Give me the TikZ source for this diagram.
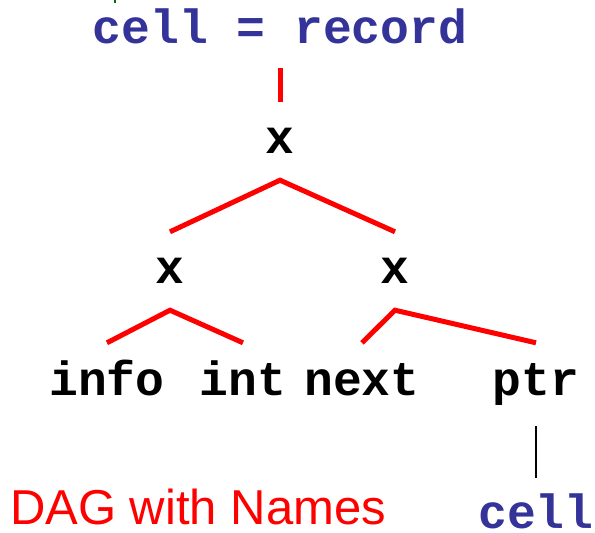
\documentclass[tikz,border=0pt]{standalone}
\usepackage{fontspec}
\setmainfont{Liberation Sans}
\setmonofont{Liberation Mono}
\definecolor{recblue}{RGB}{51,51,153}
\definecolor{markgreen}{RGB}{0,110,0}
\tikzset{
	typ/.style={font=\ttfamily\bfseries\fontsize{48}{56}\selectfont, inner sep=0pt},
	prod/.style={typ, minimum height=78pt},
	leaf/.style={typ, text height=30pt, text depth=9pt, inner ysep=22pt, anchor=base},
	redge/.style={red, line width=5pt},
}

\begin{document}
\begin{tikzpicture}[x=1pt,y=-1pt]
		\useasboundingbox (0,0) rectangle (595,533);
		% 上方被截去的绿色字
		\draw[markgreen, line width=2pt] (115,0)--(115,3);
		
		% 类型声明
		\node[typ, text=recblue, anchor=base, text depth=9pt, inner ysep=16pt] (rec) at (280,43) {cell = record};
		
		% 乘积结点
		\node[prod] (x0) at (280,141) {x};
		\node[prod] (x1) at (170,271) {x};
		\node[prod] (x2) at (395,271) {x};
		
		% 叶子
		\node[leaf] (info) at (107,395) {info};
		\node[leaf] (int) at (243,395) {int};
		\node[leaf] (next) at (362,395) {next};
		\node[leaf] (ptr) at (536,395) {ptr};
		\node[leaf, text=recblue, text depth=0pt, inner ysep=2pt] (cellref) at (536,528) {cell};
		
		% 连线
		\draw[redge] (rec.south)--(x0.north);
		\draw[redge] (x1.north)--(x0.south)--(x2.north);
		\draw[redge] (info.north)--(x1.south)--(int.north);
		\draw[redge] (next.north)--(x2.south)--(ptr.north);
		\draw[line width=2pt, shorten >=18pt] (ptr.south)--(cellref.north);
		
		% 标题
		\node[text=red, font=\fontsize{49}{58}\selectfont, anchor=base west, inner sep=0pt, text depth=0pt] (title) at (10,524) {DAG with Names};
		
	\end{tikzpicture}
\end{document}
